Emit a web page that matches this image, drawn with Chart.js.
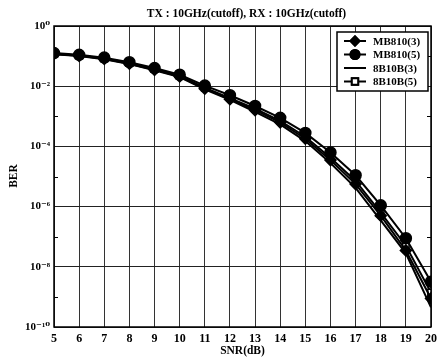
<!DOCTYPE html>
<html>
<head>
<meta charset="utf-8">
<script src="https://cdn.jsdelivr.net/npm/chart.js@4/dist/chart.umd.min.js"></script>
<style>
  html, body { margin: 0; padding: 0; background: #fff; }
  #wrap { width: 442px; height: 361px; }
</style>
</head>
<body>
<div id="wrap"><canvas id="ber-chart"></canvas></div>
<script>
'use strict';

var SNR = [5, 6, 7, 8, 9, 10, 11, 12, 13, 14, 15, 16, 17, 18, 19, 20];
var MB810_3 = [1.17e-1, 1.02e-1, 8.1e-2, 5.6e-2, 3.5e-2, 2.1e-2, 8.3e-3, 3.7e-3, 1.6e-3, 6.3e-4, 1.8e-4, 3.5e-5, 5.6e-6, 5.0e-7, 3.5e-8, 8.9e-10];
var MB810_5 = [1.26e-1, 1.10e-1, 8.9e-2, 6.3e-2, 4.0e-2, 2.4e-2, 1.05e-2, 5.0e-3, 2.2e-3, 8.9e-4, 2.8e-4, 6.3e-5, 1.1e-5, 1.1e-6, 8.9e-8, 3.2e-9];
var B8B10B_3 = [1.15e-1, 1.0e-1, 7.9e-2, 5.5e-2, 3.4e-2, 2.0e-2, 7.9e-3, 3.5e-3, 1.4e-3, 5.4e-4, 1.5e-4, 2.8e-5, 4.2e-6, 3.5e-7, 2.8e-8, 4.5e-10];
var B8B10B_5 = [1.2e-1, 1.05e-1, 8.3e-2, 5.9e-2, 3.7e-2, 2.2e-2, 8.9e-3, 4.0e-3, 1.8e-3, 7.1e-4, 2.1e-4, 4.2e-5, 7.1e-6, 6.3e-7, 5.0e-8, 1.4e-9];
var Y_TICKS = [1, 1e-2, 1e-4, 1e-6, 1e-8, 1e-10];
var Y_TICK_LABELS = ['10\u2070', '10\u207b\u00b2', '10\u207b\u2074', '10\u207b\u2076', '10\u207b\u2078', '10\u207b\u00b9\u2070'];
var TITLE = 'TX : 10GHz(cutoff), RX : 10GHz(cutoff)';

var SERIF = '"Liberation Serif", "DejaVu Serif", serif';

function pts(ys) {
  return SNR.map(function (x, i) { return { x: x, y: ys[i] }; });
}

function series(label, ys, style, fill, radius) {
  return {
    label: label,
    data: pts(ys),
    borderColor: '#000',
    borderWidth: 2,
    pointStyle: style,
    pointRadius: radius,
    pointBackgroundColor: fill,
    pointBorderColor: '#000',
    pointBorderWidth: 1.5,
    tension: 0
  };
}

var frame = {
  id: 'frame',
  afterDraw: function (chart) {
    var c = chart.ctx, a = chart.chartArea;
    var y = chart.scales.y;
    c.save();
    c.strokeStyle = '#000';
    c.lineWidth = 1.5;
    c.strokeRect(a.left, a.top, a.right - a.left, a.bottom - a.top);

    // minor ticks at odd decades
    c.lineWidth = 1;
    [1e-1, 1e-3, 1e-5, 1e-7, 1e-9].forEach(function (v) {
      var py = Math.round(y.getPixelForValue(v)) + 0.5;
      c.beginPath();
      c.moveTo(a.left, py); c.lineTo(a.left + 4, py);
      c.moveTo(a.right, py); c.lineTo(a.right - 4, py);
      c.stroke();
    });

    // title and axis titles
    c.fillStyle = '#000';
    c.font = 'bold 11.5px ' + SERIF;
    c.textAlign = 'center';
    c.textBaseline = 'middle';
    c.fillText(TITLE, (a.left + a.right) / 2 + 4, 14);
    c.fillText('SNR(dB)', (a.left + a.right) / 2, 351);
    c.save();
    c.translate(14, 176);
    c.rotate(-Math.PI / 2);
    c.fillText('BER', 0, 0);
    c.restore();

    // legend box
    var bx = 337, by = 32, bw = 91, bh = 59;
    c.fillStyle = '#fff';
    c.fillRect(bx, by, bw, bh);
    c.lineWidth = 1.5;
    c.strokeRect(bx, by, bw, bh);
    chart.data.datasets.forEach(function (ds, i) {
      var ly = by + 9 + i * 13.5;
      c.strokeStyle = '#000';
      c.lineWidth = 2;
      c.beginPath();
      c.moveTo(bx + 7, ly); c.lineTo(bx + 29, ly);
      c.stroke();
      if (ds.pointRadius > 0) {
        Chart.helpers.drawPoint(c, {
          pointStyle: ds.pointStyle,
          radius: 4.5,
          borderWidth: 1.5
        }, bx + 18, ly);
        c.fillStyle = ds.pointBackgroundColor;
        c.fill();
        c.stroke();
      }
      c.fillStyle = '#000';
      c.font = 'bold 11px ' + SERIF;
      c.textAlign = 'left';
      c.fillText(ds.label, bx + 36, ly + 1);
    });
    c.restore();
  }
};

var ctx = document.getElementById('ber-chart').getContext('2d');
new Chart(ctx, {
  type: 'line',
  data: {
    datasets: [
      series('MB810(3)', MB810_3, 'rectRot', '#000', 5.5),
      series('MB810(5)', MB810_5, 'circle', '#000', 5.5),
      series('8B10B(3)', B8B10B_3, 'circle', '#000', 0),
      series('8B10B(5)', B8B10B_5, 'rect', '#fff', 4.5)
    ]
  },
  options: {
    responsive: true,
    maintainAspectRatio: false,
    animation: false,
    layout: { padding: { top: 26, right: 9, left: 0, bottom: 0 } },
    plugins: {
      legend: { display: false },
      title: { display: false },
      tooltip: { enabled: false }
    },
    scales: {
      x: {
        type: 'linear',
        min: 5,
        max: 20,
        afterFit: function (s) { s.height = 34; },
        ticks: {
          stepSize: 1,
          padding: 5,
          color: '#000',
          font: { family: SERIF, size: 12, weight: 'bold' }
        },
        grid: { color: '#333', lineWidth: 1, drawTicks: false },
        border: { display: false }
      },
      y: {
        type: 'logarithmic',
        min: 1e-10,
        max: 1,
        afterFit: function (s) { s.width = 54; },
        afterBuildTicks: function (s) {
          s.ticks = Y_TICKS.map(function (v) { return { value: v }; });
        },
        ticks: {
          padding: 4,
          color: '#000',
          font: { family: SERIF, size: 11, weight: 'bold' },
          callback: function (v) {
            var i = Y_TICKS.indexOf(v);
            return i >= 0 ? Y_TICK_LABELS[i] : '';
          }
        },
        grid: { color: '#222', lineWidth: 1, drawTicks: false },
        border: { display: false }
      }
    }
  },
  plugins: [frame]
});
</script>
</body>
</html>
